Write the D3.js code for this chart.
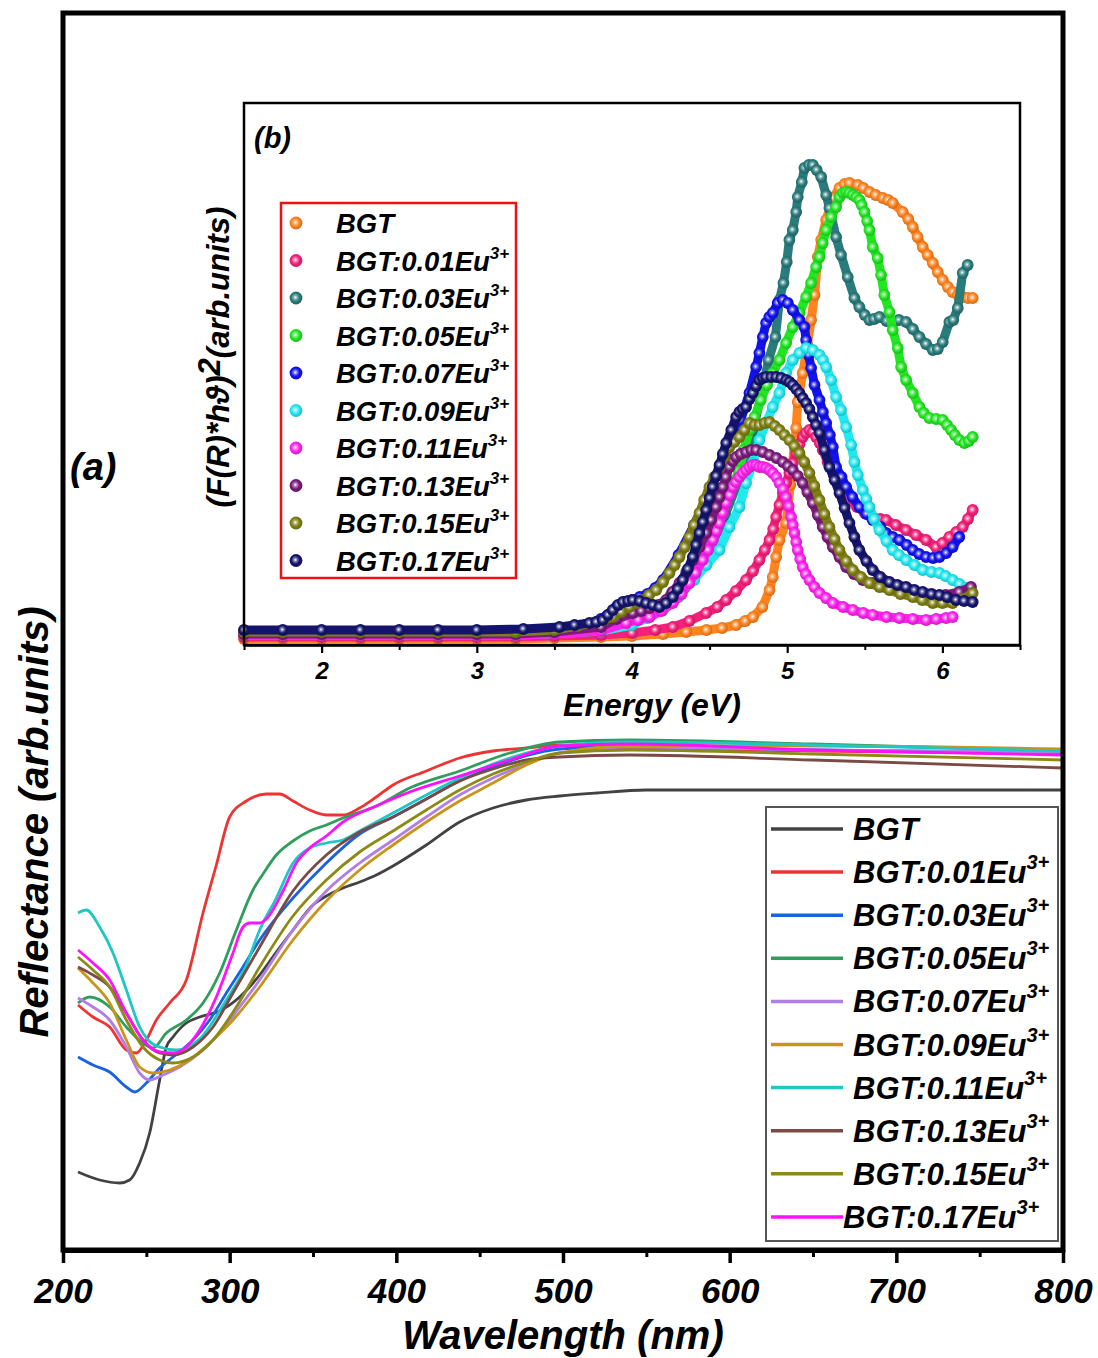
<!DOCTYPE html>
<html><head><meta charset="utf-8">
<script src="https://cdn.jsdelivr.net/npm/d3@7"></script>
<style>
body{margin:0;background:#fff}
text{font-family:Arial,"Liberation Sans",sans-serif;font-weight:bold;font-style:italic;fill:#000}
</style>
</head><body>
<svg id="c" width="1098" height="1358"></svg>
<script>
// ---------- labels / categories ----------
const labelBase = ["BGT","BGT:0.01Eu","BGT:0.03Eu","BGT:0.05Eu","BGT:0.07Eu","BGT:0.09Eu","BGT:0.11Eu","BGT:0.13Eu","BGT:0.15Eu","BGT:0.17Eu"];
const labelSup  = ["","3+","3+","3+","3+","3+","3+","3+","3+","3+"];
const mainColors  = ["#424242","#ee3333","#1a62e0","#2f9e5c","#b07ee6","#c8951a","#1fc6c6","#7b4a45","#8a8a14","#ff10ff"];
const insetColors = ["#ff8420","#f5207a","#2a7b7b","#22e622","#1212ee","#22e8f0","#ff22ee","#7b1a7b","#7f7f14","#14146e"];
const xTicksMain  = [200,300,400,500,600,700,800];
const xMinorMain  = [250,350,450,550,650,750];
const xTicksInset = [2,3,4,5,6];
const xMinorInset = [1.5,2.5,3.5,4.5,5.5,6.5];

// ---------- (a) reflectance, [wavelength nm, arb. units] ----------
const R_BGT = [[209,7.8],[222,7.0],[234,6.7],[240,7.0],[246,8.7],[252,11.7],[258,17.0],[262,20.3],[266,21.3],[274,22.7],[282,23.3],[294,23.9],[306,25.3],[318,27.5],[328,29.8],[338,32.0],[350,34.5],[358,35.4],[368,36.2],[378,36.8],[388,37.5],[398,38.4],[418,40.5],[438,42.8],[458,44.2],[478,45.0],[498,45.4],[520,45.7],[550,46.0],[650,46.0],[800,46.0]];
const R_01 = [[209,24.5],[218,23.3],[228,22.3],[238,20.0],[244,19.7],[250,21.0],[256,23.0],[264,24.7],[274,27.0],[284,33.7],[292,38.5],[300,43.3],[310,44.9],[322,45.6],[330,45.6],[338,44.9],[348,44.0],[358,43.5],[368,43.5],[378,44.2],[388,45.3],[398,46.5],[418,47.9],[438,49.2],[458,49.9],[478,50.2],[498,50.5],[540,50.2],[650,49.9],[800,49.6]];
const R_03 = [[209,19.3],[218,18.5],[228,17.8],[238,16.3],[243,15.8],[250,16.7],[258,18.2],[266,19.3],[278,21.0],[288,23.0],[298,25.7],[308,28.3],[318,31.0],[338,35.2],[358,38.7],[378,41.6],[398,43.3],[418,45.1],[438,46.9],[458,48.3],[498,50.1],[540,50.4],[650,50.0],[800,49.7]];
const R_05 = [[209,24.7],[216,25.3],[228,24.3],[238,22.3],[248,20.7],[254,20.2],[262,21.7],[274,23.0],[284,24.7],[294,27.7],[304,32.0],[314,36.0],[320,37.6],[328,39.5],[338,40.9],[348,41.9],[358,42.5],[368,43.2],[388,44.4],[408,46.2],[438,47.9],[468,49.7],[498,50.8],[540,51.0],[650,50.6],[800,49.9]];
const R_07 = [[209,25.2],[218,24.3],[228,23.0],[238,20.3],[246,17.7],[252,17.0],[260,17.5],[270,18.3],[282,19.7],[294,21.7],[306,24.3],[318,27.0],[338,32.0],[358,35.9],[378,38.7],[398,41.0],[418,43.3],[438,45.5],[458,47.2],[478,48.6],[498,49.7],[540,50.3],[650,50.0],[800,49.8]];
const R_09 = [[209,28.2],[218,26.7],[228,24.7],[238,21.0],[246,18.3],[254,17.7],[264,18.0],[274,18.8],[288,20.7],[302,23.0],[318,26.3],[338,31.0],[358,34.9],[378,38.0],[398,40.5],[418,42.8],[438,44.9],[458,46.7],[478,48.5],[498,49.7],[540,50.4],[650,50.4],[800,50.1]];
const R_11 = [[209,33.7],[214,34.0],[222,32.3],[230,29.7],[238,26.0],[246,22.3],[251,21.0],[258,20.3],[268,20.0],[282,21.1],[298,25.0],[310,28.5],[318,32.0],[328,35.2],[338,38.7],[348,40.2],[358,40.7],[368,41.0],[378,41.9],[398,43.7],[418,45.5],[438,47.2],[458,48.6],[478,49.7],[498,50.4],[540,50.8],[650,50.5],[800,49.9]];
const R_13 = [[209,28.3],[218,27.5],[228,26.3],[238,23.7],[248,21.0],[258,19.7],[266,19.5],[278,20.3],[290,22.3],[302,25.7],[318,30.3],[338,35.9],[358,39.5],[378,41.8],[398,43.3],[418,45.1],[438,46.9],[458,48.1],[478,49.0],[498,49.3],[540,49.5],[650,49.0],[800,48.2]];
const R_15 = [[209,29.3],[218,28.0],[228,26.3],[238,23.0],[248,20.3],[258,19.0],[266,18.7],[278,19.3],[290,21.0],[304,24.3],[318,28.3],[338,33.4],[358,37.0],[378,39.8],[398,41.9],[418,44.0],[438,46.0],[458,47.6],[478,48.8],[498,49.7],[540,50.0],[650,49.6],[800,49.0]];
const R_17 = [[209,30.0],[218,28.7],[228,27.0],[238,23.7],[248,21.0],[258,19.8],[266,19.7],[274,20.3],[282,22.0],[292,25.3],[302,29.7],[308,32.3],[312,32.7],[318,32.7],[322,33.1],[332,35.9],[340,38.7],[348,40.2],[358,41.4],[368,42.8],[388,44.4],[408,45.8],[438,47.4],[468,49.0],[498,50.4],[540,50.6],[650,50.0],[800,49.5]];
const reflSeries = [R_BGT,R_01,R_03,R_05,R_07,R_09,R_11,R_13,R_15,R_17];

// ---------- (b) (F(R)*hv)^2, [energy eV, arb. units] ----------
const F_BGT = [[1.5,0.6],[1.75,0.6],[2.0,0.6],[2.25,0.6],[2.5,0.6],[2.75,0.6],[3.0,0.6],[3.25,0.6],[3.5,0.7],[3.8,0.8],[4.0,0.9],[4.2,1.1],[4.35,1.3],[4.48,1.5],[4.58,1.7],[4.67,2.0],[4.73,2.4],[4.78,2.8],[4.84,3.8],[4.886,5.5],[4.907,6.8],[4.929,8.8],[4.95,10.5],[4.993,12.2],[5.02,16.0],[5.058,21.7],[5.068,24.3],[5.10,27.2],[5.13,30.0],[5.154,32.5],[5.176,35.0],[5.197,38.8],[5.219,40.5],[5.251,42.5],[5.294,44.7],[5.337,45.7],[5.37,46.1],[5.401,46.2],[5.455,46.0],[5.49,45.7],[5.53,45.3],[5.57,45.0],[5.616,44.7],[5.65,44.5],[5.68,44.2],[5.744,43.3],[5.78,42.6],[5.809,41.8],[5.84,40.8],[5.873,39.8],[5.905,39.0],[5.938,38.2],[5.97,37.3],[6.002,36.5],[6.035,35.8],[6.066,35.3],[6.10,35.0],[6.131,34.8],[6.165,34.7],[6.195,34.7]];
const F_01 = [[1.5,0.8],[1.75,0.8],[2.0,0.8],[2.25,0.8],[2.5,0.8],[2.75,0.8],[3.0,0.8],[3.25,0.8],[3.5,0.9],[3.8,1.0],[4.0,1.2],[4.15,1.5],[4.263,1.8],[4.37,2.4],[4.478,3.2],[4.55,3.8],[4.607,4.5],[4.67,5.4],[4.735,6.5],[4.78,7.4],[4.821,8.5],[4.856,9.5],[4.886,10.5],[4.91,11.6],[4.929,12.8],[4.95,14.0],[4.972,15.2],[4.993,16.2],[5.014,17.2],[5.036,18.2],[5.058,19.2],[5.08,20.1],[5.10,20.8],[5.12,21.2],[5.143,21.5],[5.165,21.3],[5.186,20.8],[5.21,20.2],[5.229,19.5],[5.26,18.3],[5.3,17.0],[5.35,15.7],[5.4,14.6],[5.45,13.8],[5.5,13.2],[5.55,12.8],[5.6,12.6],[5.637,12.5],[5.7,12.0],[5.766,11.5],[5.83,11.0],[5.895,10.5],[5.959,9.8],[6.0,10.2],[6.045,10.8],[6.09,11.3],[6.131,11.8],[6.165,12.6],[6.195,13.5]];
const F_03 = [[1.5,1.2],[1.75,1.2],[2.0,1.2],[2.25,1.2],[2.5,1.2],[2.75,1.2],[3.0,1.2],[3.25,1.2],[3.5,1.3],[3.8,1.6],[3.95,2.5],[4.1,3.2],[4.25,4.8],[4.4,7.0],[4.5,9.5],[4.6,13.0],[4.7,17.0],[4.78,21.5],[4.84,25.5],[4.88,28.5],[4.924,30.8],[4.95,34.5],[4.976,36.2],[4.997,38.3],[5.014,40.5],[5.036,41.5],[5.058,43.3],[5.068,44.8],[5.094,46.3],[5.111,47.7],[5.14,48.0],[5.165,48.0],[5.19,47.5],[5.219,46.8],[5.251,45.0],[5.272,43.7],[5.315,40.8],[5.347,39.0],[5.39,36.8],[5.433,34.7],[5.465,33.8],[5.50,33.0],[5.53,32.5],[5.56,32.6],[5.594,32.8],[5.64,32.4],[5.68,32.2],[5.72,32.5],[5.766,32.3],[5.81,31.6],[5.852,30.8],[5.895,30.1],[5.938,29.5],[5.97,29.6],[6.002,30.3],[6.045,32.3],[6.07,32.5],[6.099,33.7],[6.131,37.2],[6.163,38.0]];
const F_05 = [[1.5,1.0],[1.75,1.0],[2.0,1.0],[2.25,1.0],[2.5,1.0],[2.75,1.0],[3.0,1.0],[3.25,1.0],[3.5,1.1],[3.8,1.4],[3.95,2.0],[4.1,3.0],[4.25,5.0],[4.4,8.0],[4.5,11.0],[4.6,14.5],[4.69,17.4],[4.72,19.5],[4.757,21.5],[4.79,22.8],[4.83,24.5],[4.87,26.0],[4.907,27.2],[4.95,28.5],[4.993,30.2],[5.036,31.8],[5.079,33.2],[5.122,34.8],[5.154,36.2],[5.186,37.8],[5.208,38.8],[5.229,40.2],[5.251,41.5],[5.283,42.8],[5.315,43.8],[5.337,44.8],[5.36,45.2],[5.38,45.3],[5.40,45.2],[5.423,45.0],[5.445,44.8],[5.465,44.5],[5.48,44.0],[5.498,43.3],[5.515,42.4],[5.53,41.5],[5.551,39.8],[5.583,38.7],[5.605,37.0],[5.626,35.0],[5.659,33.3],[5.68,31.5],[5.712,29.7],[5.734,27.8],[5.766,26.5],[5.809,25.2],[5.852,23.8],[5.88,23.2],[5.916,22.7],[5.96,22.6],[6.002,22.5],[6.03,22.0],[6.056,21.5],[6.08,21.0],[6.109,20.5],[6.142,20.2],[6.17,20.4],[6.195,20.8]];
const F_07 = [[1.5,1.4],[1.75,1.4],[2.0,1.4],[2.25,1.4],[2.5,1.4],[2.75,1.4],[3.0,1.4],[3.25,1.4],[3.5,1.6],[3.7,2.0],[3.8,2.6],[3.9,3.8],[3.95,4.3],[4.0,4.5],[4.05,4.8],[4.1,5.1],[4.15,5.7],[4.2,6.5],[4.3,9.0],[4.4,12.0],[4.5,15.5],[4.6,19.0],[4.7,22.5],[4.757,25.2],[4.8,27.8],[4.821,29.2],[4.843,30.8],[4.864,32.2],[4.885,32.8],[4.907,33.2],[4.939,34.2],[4.972,34.5],[5.004,34.2],[5.036,33.5],[5.079,32.5],[5.111,31.8],[5.122,30.5],[5.138,29.0],[5.154,27.7],[5.176,26.0],[5.208,24.5],[5.23,23.3],[5.251,22.2],[5.275,21.0],[5.294,19.8],[5.315,17.8],[5.35,16.8],[5.38,15.8],[5.42,14.8],[5.465,13.8],[5.51,13.1],[5.551,12.5],[5.6,11.8],[5.637,11.2],[5.68,10.8],[5.723,10.5],[5.77,10.0],[5.809,9.5],[5.85,9.1],[5.895,8.8],[5.94,8.7],[5.981,8.8],[6.025,9.2],[6.066,9.8],[6.109,10.8]];
const F_09 = [[1.5,1.1],[1.75,1.1],[2.0,1.1],[2.25,1.1],[2.5,1.1],[2.75,1.1],[3.0,1.1],[3.25,1.1],[3.5,1.2],[3.8,1.4],[4.0,2.0],[4.1,2.7],[4.2,3.5],[4.3,4.8],[4.4,6.5],[4.48,8.0],[4.564,9.5],[4.628,11.8],[4.692,13.8],[4.735,16.2],[4.778,18.2],[4.821,20.5],[4.864,22.2],[4.907,23.8],[4.95,25.2],[4.993,27.2],[5.036,28.5],[5.079,29.2],[5.122,29.7],[5.165,29.5],[5.208,29.0],[5.23,28.5],[5.251,27.8],[5.283,26.5],[5.315,24.8],[5.347,23.5],[5.38,21.8],[5.412,20.0],[5.433,18.3],[5.455,17.0],[5.487,15.5],[5.51,14.6],[5.53,13.8],[5.56,12.6],[5.594,11.5],[5.64,10.4],[5.68,9.5],[5.72,9.0],[5.766,8.5],[5.82,8.0],[5.873,7.5],[5.93,7.3],[5.981,7.2],[6.02,6.9],[6.066,6.5],[6.11,6.1],[6.152,5.7]];
const F_11 = [[1.5,1.0],[1.75,1.0],[2.0,1.0],[2.25,1.0],[2.5,1.0],[2.75,1.0],[3.0,1.0],[3.25,1.0],[3.5,1.1],[3.8,1.4],[3.963,2.2],[4.04,2.5],[4.113,2.8],[4.19,3.4],[4.263,4.2],[4.32,5.1],[4.37,6.2],[4.41,7.2],[4.456,8.5],[4.49,9.5],[4.521,10.5],[4.545,11.4],[4.564,12.2],[4.585,13.2],[4.607,14.2],[4.63,15.0],[4.65,15.8],[4.67,16.3],[4.692,16.8],[4.713,17.2],[4.735,17.5],[4.757,17.8],[4.778,18.0],[4.8,18.0],[4.821,17.8],[4.843,17.8],[4.864,17.7],[4.886,17.5],[4.907,17.2],[4.93,16.8],[4.95,16.2],[4.972,15.6],[4.993,14.8],[5.01,13.9],[5.025,12.8],[5.036,12.0],[5.047,11.2],[5.058,10.3],[5.068,9.5],[5.084,8.6],[5.10,7.8],[5.12,7.1],[5.143,6.5],[5.175,5.8],[5.208,5.2],[5.25,4.7],[5.294,4.2],[5.36,3.8],[5.423,3.5],[5.49,3.2],[5.551,3.0],[5.64,2.8],[5.723,2.7],[5.81,2.6],[5.895,2.5],[5.96,2.6],[6.024,2.7],[6.066,2.8]];
const F_13 = [[1.5,1.1],[1.75,1.1],[2.0,1.1],[2.25,1.1],[2.5,1.1],[2.75,1.1],[3.0,1.1],[3.25,1.1],[3.5,1.3],[3.8,1.8],[3.9,2.6],[4.005,3.2],[4.06,3.4],[4.113,3.7],[4.17,4.0],[4.22,4.5],[4.26,5.3],[4.306,6.2],[4.35,7.3],[4.392,8.5],[4.435,9.8],[4.478,11.2],[4.51,12.5],[4.542,13.8],[4.565,14.8],[4.585,15.8],[4.605,16.8],[4.628,17.8],[4.65,18.4],[4.671,18.8],[4.7,19.1],[4.735,19.3],[4.768,19.5],[4.8,19.5],[4.843,19.3],[4.886,19.0],[4.93,18.7],[4.972,18.3],[5.004,17.9],[5.036,17.5],[5.068,16.9],[5.10,16.2],[5.13,15.3],[5.165,14.2],[5.197,13.0],[5.229,11.8],[5.26,10.8],[5.294,9.8],[5.337,8.8],[5.38,7.8],[5.43,7.1],[5.487,6.5],[5.55,6.2],[5.616,6.0],[5.69,5.7],[5.766,5.5],[5.85,5.2],[5.938,5.0],[6.02,5.0],[6.109,5.3],[6.184,5.8]];
const F_15 = [[1.5,1.3],[1.75,1.3],[2.0,1.3],[2.25,1.3],[2.5,1.3],[2.75,1.3],[3.0,1.3],[3.25,1.3],[3.5,1.5],[3.65,1.9],[3.769,2.3],[3.82,2.5],[3.876,2.8],[3.93,3.3],[3.984,3.8],[4.03,4.2],[4.07,4.5],[4.11,5.0],[4.156,5.5],[4.2,6.3],[4.241,7.2],[4.275,8.0],[4.306,8.8],[4.34,9.8],[4.37,10.8],[4.4,12.0],[4.435,13.2],[4.465,14.5],[4.499,15.8],[4.53,16.8],[4.564,17.8],[4.595,18.8],[4.628,19.8],[4.66,20.3],[4.692,20.8],[4.725,21.5],[4.757,22.2],[4.79,22.0],[4.821,22.0],[4.855,22.2],[4.886,22.3],[4.92,21.9],[4.95,21.5],[4.982,21.0],[5.014,20.5],[5.046,19.9],[5.079,19.2],[5.11,18.3],[5.143,17.2],[5.175,15.9],[5.208,14.5],[5.24,13.1],[5.272,11.8],[5.305,10.6],[5.337,9.5],[5.38,8.4],[5.423,7.5],[5.475,6.8],[5.53,6.2],[5.595,5.8],[5.659,5.5],[5.73,5.1],[5.809,4.8],[5.87,4.5],[5.938,4.2],[6.0,4.2],[6.066,4.2],[6.13,4.6],[6.195,5.2]];
const F_17 = [[1.5,1.5],[1.75,1.5],[2.0,1.5],[2.25,1.5],[2.5,1.5],[2.75,1.5],[3.0,1.5],[3.3,1.6],[3.533,1.8],[3.63,2.0],[3.726,2.2],[3.77,2.3],[3.812,2.5],[3.845,3.0],[3.876,3.5],[3.91,4.0],[3.941,4.3],[3.975,4.4],[4.005,4.5],[4.05,4.4],[4.091,4.2],[4.135,4.0],[4.177,3.8],[4.22,4.2],[4.263,4.8],[4.295,5.6],[4.327,6.5],[4.36,7.6],[4.392,8.8],[4.413,10.0],[4.435,11.2],[4.457,12.3],[4.478,13.5],[4.5,14.7],[4.52,15.8],[4.542,16.9],[4.564,18.0],[4.585,19.1],[4.607,20.2],[4.64,21.5],[4.671,22.8],[4.692,23.3],[4.713,23.6],[4.735,23.8],[4.757,24.6],[4.778,25.2],[4.8,25.9],[4.821,26.5],[4.843,26.7],[4.864,26.8],[4.897,26.8],[4.929,26.8],[4.961,26.7],[4.993,26.5],[5.015,26.3],[5.036,26.0],[5.058,25.6],[5.079,25.2],[5.1,24.7],[5.122,24.2],[5.143,23.6],[5.165,22.8],[5.186,22.0],[5.208,21.2],[5.24,19.5],[5.272,17.8],[5.305,16.5],[5.337,15.2],[5.37,13.7],[5.401,12.2],[5.433,10.8],[5.465,9.5],[5.51,8.4],[5.551,7.5],[5.6,6.8],[5.659,6.3],[5.71,6.0],[5.766,5.8],[5.82,5.5],[5.873,5.3],[5.93,5.1],[5.981,5.0],[6.03,4.8],[6.088,4.5],[6.14,4.4],[6.195,4.3]];
const tlSeries = [F_BGT,F_01,F_03,F_05,F_07,F_09,F_11,F_13,F_15,F_17];

// ---------- drawing ----------
const svg = d3.select("#c");
const defs = svg.append("defs");

function addLabel(sel, base, sup, supFs, supDy) {
  sel.append("tspan").text(base);
  if (sup) sel.append("tspan").attr("font-size", supFs).attr("dy", supDy).text(sup);
}

// ===== main panel (a) =====
const M = {l:63, r:1063, t:13, b:1250};
const xM = d3.scaleLinear().domain([200,800]).range([M.l, M.r]);
const yM = d3.scaleLinear().domain([0,123.7]).range([M.b, M.t]);
const lineM = d3.line().x(d => xM(d[0])).y(d => yM(d[1])).curve(d3.curveMonotoneX);

const gMain = svg.append("g");
reflSeries.forEach((s, i) => {
  gMain.append("path").attr("d", lineM(s)).attr("fill","none")
    .attr("stroke", mainColors[i]).attr("stroke-width", 2.8)
    .attr("stroke-linejoin","round");
});

// frame
svg.append("rect").attr("x",M.l).attr("y",M.t).attr("width",M.r-M.l).attr("height",M.b-M.t)
  .attr("fill","none").attr("stroke","#000").attr("stroke-width",5);

// x axis (a)
const axM = svg.append("g").attr("transform",`translate(0,${M.b})`)
  .call(d3.axisBottom(xM).tickValues(xTicksMain).tickSize(13).tickSizeOuter(0).tickPadding(15).tickFormat(d3.format("d")));
axM.select(".domain").attr("stroke-width",5);
axM.selectAll(".tick line").attr("stroke-width",3.5);
axM.selectAll(".tick text").attr("font-size",35).attr("font-family","Arial, 'Liberation Sans', sans-serif");
const axMm = svg.append("g").attr("transform",`translate(0,${M.b})`)
  .call(d3.axisBottom(xM).tickValues(xMinorMain).tickSize(7).tickSizeOuter(0).tickFormat(""));
axMm.select(".domain").remove();
axMm.selectAll(".tick line").attr("stroke-width",3);

svg.append("text").attr("x", (M.l+M.r)/2).attr("y", 1349).attr("text-anchor","middle")
  .attr("font-size",40).text("Wavelength (nm)");
svg.append("text").attr("transform","translate(48,822) rotate(-90)").attr("text-anchor","middle")
  .attr("font-size",40).text("Reflectance (arb.units)");
svg.append("text").attr("x",70).attr("y",480).attr("font-size",38).text("(a)");

// legend (a)
const LG = {x:766, y:807, w:292, h:434};
svg.append("rect").attr("x",LG.x).attr("y",LG.y).attr("width",LG.w).attr("height",LG.h)
  .attr("fill","#fff").attr("stroke","#555").attr("stroke-width",2);
labelBase.forEach((lb, i) => {
  const cy = 829 + i*43.1;
  svg.append("line").attr("x1",771).attr("x2",843).attr("y1",cy).attr("y2",cy)
    .attr("stroke", mainColors[i]).attr("stroke-width",3.5);
  const t = svg.append("text").attr("x", i === 9 ? 843 : 853).attr("y", cy+11).attr("font-size",31);
  addLabel(t, lb, labelSup[i], 20, -14);
});

// ===== inset (b) =====
const I = {l:244, r:1020, t:103, b:645};
const xI = d3.scaleLinear().domain([1.5,6.5]).range([I.l, I.r]);
const yI = d3.scaleLinear().domain([0,54.2]).range([I.b, I.t]);

svg.append("rect").attr("x",I.l).attr("y",I.t).attr("width",I.r-I.l).attr("height",I.b-I.t)
  .attr("fill","#fff");

insetColors.forEach((c, i) => {
  const g = defs.append("radialGradient").attr("id","gr"+i).attr("cx","45%").attr("cy","45%").attr("r","55%");
  g.append("stop").attr("offset","0%").attr("stop-color","#ffffff");
  g.append("stop").attr("offset","25%").attr("stop-color", d3.interpolateRgb(c,"#fff")(0.45));
  g.append("stop").attr("offset","58%").attr("stop-color", c);
  g.append("stop").attr("offset","100%").attr("stop-color", d3.color(c).darker(0.6).formatHex());
});

const lineI = d3.line().x(d => xI(d[0])).y(d => yI(d[1]));
const gIn = svg.append("g");
tlSeries.forEach((s, i) => {
  const g = gIn.append("g");
  g.append("path").attr("d", lineI(s)).attr("fill","none").attr("stroke", insetColors[i])
    .attr("stroke-width",9).attr("stroke-linejoin","round").attr("stroke-linecap","round");
  g.selectAll("circle").data(s).join("circle")
    .attr("cx", d => xI(d[0])).attr("cy", d => yI(d[1])).attr("r",5.9)
    .attr("fill", `url(#gr${i})`);
});

svg.append("rect").attr("x",I.l).attr("y",I.t).attr("width",I.r-I.l).attr("height",I.b-I.t)
  .attr("fill","none").attr("stroke","#000").attr("stroke-width",2.5);

const axI = svg.append("g").attr("transform",`translate(0,${I.b})`)
  .call(d3.axisBottom(xI).tickValues(xTicksInset).tickSize(8).tickSizeOuter(0).tickPadding(9).tickFormat(d3.format("d")));
axI.select(".domain").attr("stroke-width",2.5);
axI.selectAll(".tick line").attr("stroke-width",2.2);
axI.selectAll(".tick text").attr("font-size",24).attr("font-family","Arial, 'Liberation Sans', sans-serif");
const axIm = svg.append("g").attr("transform",`translate(0,${I.b})`)
  .call(d3.axisBottom(xI).tickValues(xMinorInset).tickSize(5).tickSizeOuter(0).tickFormat(""));
axIm.select(".domain").remove();
axIm.selectAll(".tick line").attr("stroke-width",2);

svg.append("text").attr("x", 652).attr("y", 716).attr("text-anchor","middle")
  .attr("font-size",32).text("Energy (eV)");
const yl = svg.append("text").attr("transform","translate(229,357) rotate(-90)").attr("text-anchor","middle")
  .attr("font-size",31);
yl.append("tspan").text("(F(R)*h");
yl.append("tspan").text("\u03D1");
yl.append("tspan").text(")");
yl.append("tspan").attr("dy",-9).text("2");
yl.append("tspan").attr("dy",9).text("(arb.units)");
svg.append("text").attr("x",254).attr("y",148).attr("font-size",29).text("(b)");

// legend (b)
svg.append("rect").attr("x",281).attr("y",203).attr("width",235).attr("height",375)
  .attr("fill","#fff").attr("stroke","#ee1111").attr("stroke-width",2.5);
labelBase.forEach((lb, i) => {
  const cy = 223 + i*37.5;
  svg.append("circle").attr("cx",296).attr("cy",cy).attr("r",6.4).attr("fill",`url(#gr${i})`);
  const t = svg.append("text").attr("x",336).attr("y",cy+10).attr("font-size",27.5);
  addLabel(t, lb, labelSup[i], 17, -12);
});
</script>
</body></html>
